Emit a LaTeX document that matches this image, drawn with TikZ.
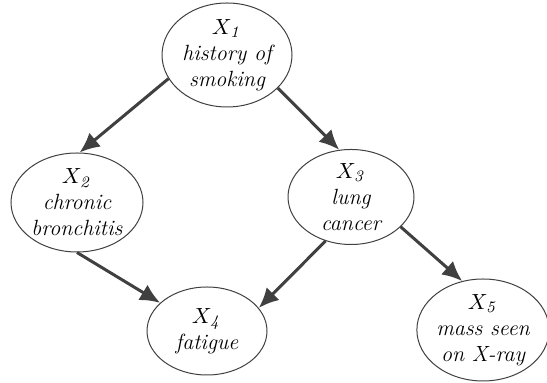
\documentclass[tikz,border=0pt]{standalone}
\usepackage{amsmath}
\usepackage{tikz}
\usetikzlibrary{shapes.geometric}
\usetikzlibrary{arrows.meta}
\definecolor{arrowgray}{HTML}{404040}
\tikzstyle{var} = [draw=black!75,ellipse,line width=0.5pt,inner sep=0pt,align=center,font=\fontsize{11}{13}\selectfont\itshape]
\tikzstyle{connector} = [-{Latex[length=10pt,width=9pt]},line width=1.5pt,arrowgray]

\begin{document}
\begin{tikzpicture}[x=0.5pt,y=-0.5pt]
	\useasboundingbox (0,0) rectangle (547,383);

	  \node[var, minimum width=65pt, minimum height=52pt] (smoking) at (227,55) {
	  	$X_{\mathit{1}}$\\ history of\\ smoking
	  };

	  \node[var, minimum width=66pt, minimum height=49.5pt] (bronch) at (77,202.5) {
	  	$X_{\mathit{2}}$\\ chronic\\ bronchitis
	  };

	  \node[var, minimum width=63pt, minimum height=47pt] (cancer) at (351,197) {
	  	$X_{\mathit{3}}$\\ lung\\ cancer
	  };

	  \node[var, minimum width=60pt, minimum height=44pt] (fatigue) at (207,331) {
	  	$X_{\mathit{4}}$\\ fatigue
	  };

	  \node[var, minimum width=64pt, minimum height=51pt] (xray) at (483,330) {
	  	$X_{\mathit{5}}$\\ mass seen\\ on X-ray
	  };

	% now link the nodes

	\draw [connector] (smoking.202) -- (bronch.87);
	\draw [connector] (smoking.327) -- (cancer.104);
	\draw [connector] (bronch.270) -- (fatigue.149);
	\draw [connector] (cancer.240) -- (fatigue.24);
	\draw [connector] (cancer.329) -- (xray.113);

\end{tikzpicture}
\end{document}
